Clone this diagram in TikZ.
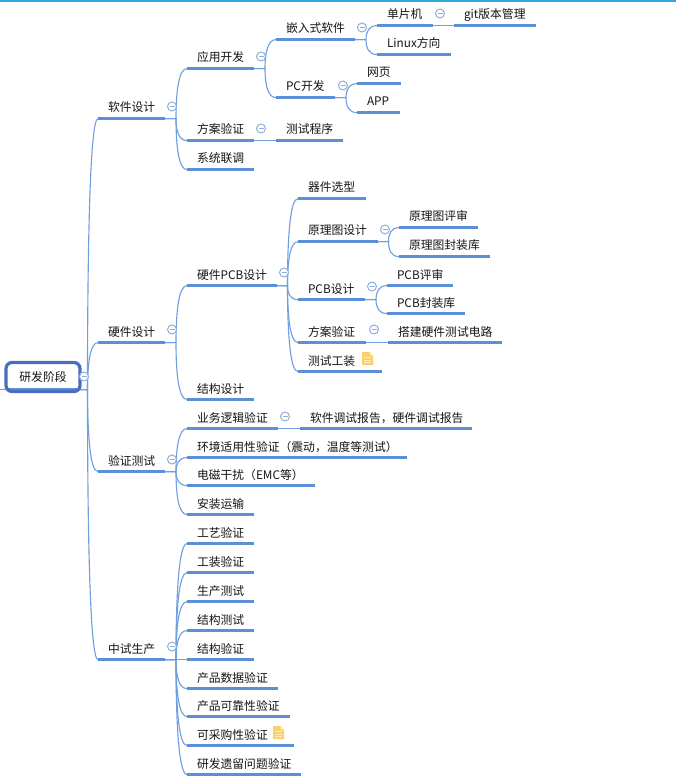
\documentclass[tikz,border=0pt]{standalone}
\usepackage{fontspec}
\setmainfont{Noto Sans CJK SC}
\usetikzlibrary{calc}
\definecolor{lineblue}{HTML}{5B8FD6}
\definecolor{connblue}{HTML}{6F9FE0}
\definecolor{rootblue}{HTML}{4A6DBE}
\definecolor{circblue}{HTML}{8FAEDC}
\definecolor{topbar}{HTML}{36A5DC}
\definecolor{noteyellow}{HTML}{FBCF6B}
\definecolor{notepale}{HTML}{FEEDBE}
\tikzset{
  x=0.75pt,y=-0.75pt,
  topic/.style={inner sep=0pt,outer sep=0pt,anchor=south west,font=\fontsize{8.85}{9}\selectfont,text=black!92},
  underl/.style={draw=lineblue,line width=2.25pt},
  conn/.style={draw=connblue,line width=0.85pt},
  rootbox/.style={draw=rootblue,line width=2.4pt,rounded corners=4.5pt,fill=none,inner sep=0pt,minimum width=55.5pt,minimum height=21.75pt,font=\fontsize{8.85}{9}\selectfont,text=black!92},
  collapse/.style={circle,draw=circblue,line width=0.75pt,fill=white,minimum size=6.75pt,inner sep=0pt,
    path picture={\draw[circblue,line width=0.75pt,shift={(path picture bounding box.center)}] (-2.5,0)--(2.5,0);}},
}
% name, x1, x2, y(line), text
\newcommand\tp[5]{%
  \node[topic] (#1) at (#2,{#4+0.6}) {\makebox[\dimexpr(#3pt-#2pt)*3/4\relax][l]{\hspace{7.5pt}\raisebox{4.95pt}{#5}}};
  \draw[underl] (#1.south west) -- (#1.south east);}
\newcommand\cn[2]{%
  \draw[conn] let \p1=(#1.south east),\p2=(#2.south west),\n1={\x1+(\x2-\x1)*0.5} in
    (\p1) -- (\n1,\y1) .. controls (\n1,{\y1+0.55*(\y2-\y1)}) and ({\n1+0.25*(\x2-\n1)},\y2) .. (\p2);}
\newcommand\cc[3]{\node[collapse] (#1) at (#2,{#3+0.5}) {};}
\newcommand\noteicon[2]{%
  \begin{scope}[shift={(#1,#2)}]
    \fill[noteyellow] (0,0) -- (7.5,0) -- (11,3.5) -- (11,13) -- (0,13) -- cycle;
    \fill[notepale] (7.5,0) -- (7.5,3.5) -- (11,3.5) -- cycle;
    \draw[notepale,line width=0.6pt] (2,5.5) -- (9,5.5) (2,8) -- (9,8) (2,10.5) -- (9,10.5);
  \end{scope}}
\begin{document}
\begin{tikzpicture}
\useasboundingbox (0,0) rectangle (676,784);
\fill[topbar] (0,0) rectangle (676,2);
% level 0 and 1
\tp{rootline}{8}{77}{389}{}
\tp{sw}{98}{165}{118}{软件设计}
\tp{hw}{98}{165}{342}{硬件设计}
\tp{vt}{98}{165}{471}{验证测试}
\tp{pp}{98}{165}{659}{中试生产}
% software
\tp{app}{187}{254}{68}{应用开发}
\tp{swv}{187}{254}{140}{方案验证}
\tp{sys}{187}{254}{169}{系统联调}
\tp{emb}{276}{355}{39}{嵌入式软件}
\tp{pc}{276}{335}{97}{PC开发}
\tp{tst}{276}{343}{140}{测试程序}
\tp{mcu}{377}{433}{25}{单片机}
\tp{lnx}{377}{451}{54}{Linux方向}
\tp{web}{357}{401}{83}{网页}
\tp{apk}{357}{400}{112}{APP}
\tp{git}{454}{536}{25}{git版本管理}
% hardware
\tp{pcbd}{187}{277}{285}{硬件PCB设计}
\tp{mech}{187}{254}{399}{结构设计}
\tp{part}{298}{366}{198}{器件选型}
\tp{sch}{298}{378}{241}{原理图设计}
\tp{pcb}{298}{365}{299}{PCB设计}
\tp{hwv}{298}{366}{342}{方案验证}
\tp{fix}{298}{382}{371}{测试工装}
\tp{schr}{399}{478}{227}{原理图评审}
\tp{schl}{399}{490}{256}{原理图封装库}
\tp{pcbr}{387}{453}{285}{PCB评审}
\tp{pcbl}{387}{465}{313}{PCB封装库}
\tp{hwc}{388}{502}{342}{搭建硬件测试电路}
% verification
\tp{biz}{187}{278}{428}{业务逻辑验证}
\tp{rep}{300}{472}{428}{软件调试报告，硬件调试报告}
\tp{env}{187}{407}{457}{环境适用性验证（震动，温度等测试）}
\tp{emc}{187}{315}{485}{电磁干扰（EMC等）}
\tp{ship}{187}{254}{514}{安装运输}
% pilot production
\tp{p1}{187}{254}{543}{工艺验证}
\tp{p2}{187}{254}{572}{工装验证}
\tp{p3}{187}{254}{601}{生产测试}
\tp{p4}{187}{254}{630}{结构测试}
\tp{p5}{187}{254}{659}{结构验证}
\tp{p6}{187}{278}{688}{产品数据验证}
\tp{p7}{187}{290}{716}{产品可靠性验证}
\tp{p8}{187}{294}{745}{可采购性验证}
\tp{p9}{187}{301}{774}{研发遗留问题验证}
% connectors
\cn{rootline}{sw}\cn{rootline}{hw}\cn{rootline}{vt}\cn{rootline}{pp}
\cn{sw}{app}\cn{sw}{swv}\cn{sw}{sys}
\cn{app}{emb}\cn{app}{pc}\cn{swv}{tst}
\cn{emb}{mcu}\cn{emb}{lnx}\cn{pc}{web}\cn{pc}{apk}\cn{mcu}{git}
\cn{hw}{pcbd}\cn{hw}{mech}
\cn{pcbd}{part}\cn{pcbd}{sch}\cn{pcbd}{pcb}\cn{pcbd}{hwv}\cn{pcbd}{fix}
\cn{sch}{schr}\cn{sch}{schl}\cn{pcb}{pcbr}\cn{pcb}{pcbl}\cn{hwv}{hwc}
\cn{vt}{biz}\cn{vt}{env}\cn{vt}{emc}\cn{vt}{ship}\cn{biz}{rep}
\cn{pp}{p1}\cn{pp}{p2}\cn{pp}{p3}\cn{pp}{p4}\cn{pp}{p5}\cn{pp}{p6}\cn{pp}{p7}\cn{pp}{p8}\cn{pp}{p9}
% root
\coordinate (rootl) at (0,389.6);
\draw[conn] (rootl) -- (rootline.south west);
\node[rootbox] (root) at (43,377) {研发阶段};
% collapse markers
\cc{c0}{84}{376}\cc{c1}{172}{106}\cc{c2}{172}{329}\cc{c3}{172}{459}\cc{c4}{172}{646}
\cc{c5}{261}{56}\cc{c6}{261}{128}\cc{c7}{362}{27}\cc{c8}{440}{13}\cc{c9}{343}{85}
\cc{c10}{284}{272}\cc{c11}{385}{229}\cc{c12}{372}{286}\cc{c13}{374}{329}\cc{c14}{285}{416}
% note icons
\noteicon{362}{352}
\noteicon{273}{726}
\end{tikzpicture}
\end{document}
